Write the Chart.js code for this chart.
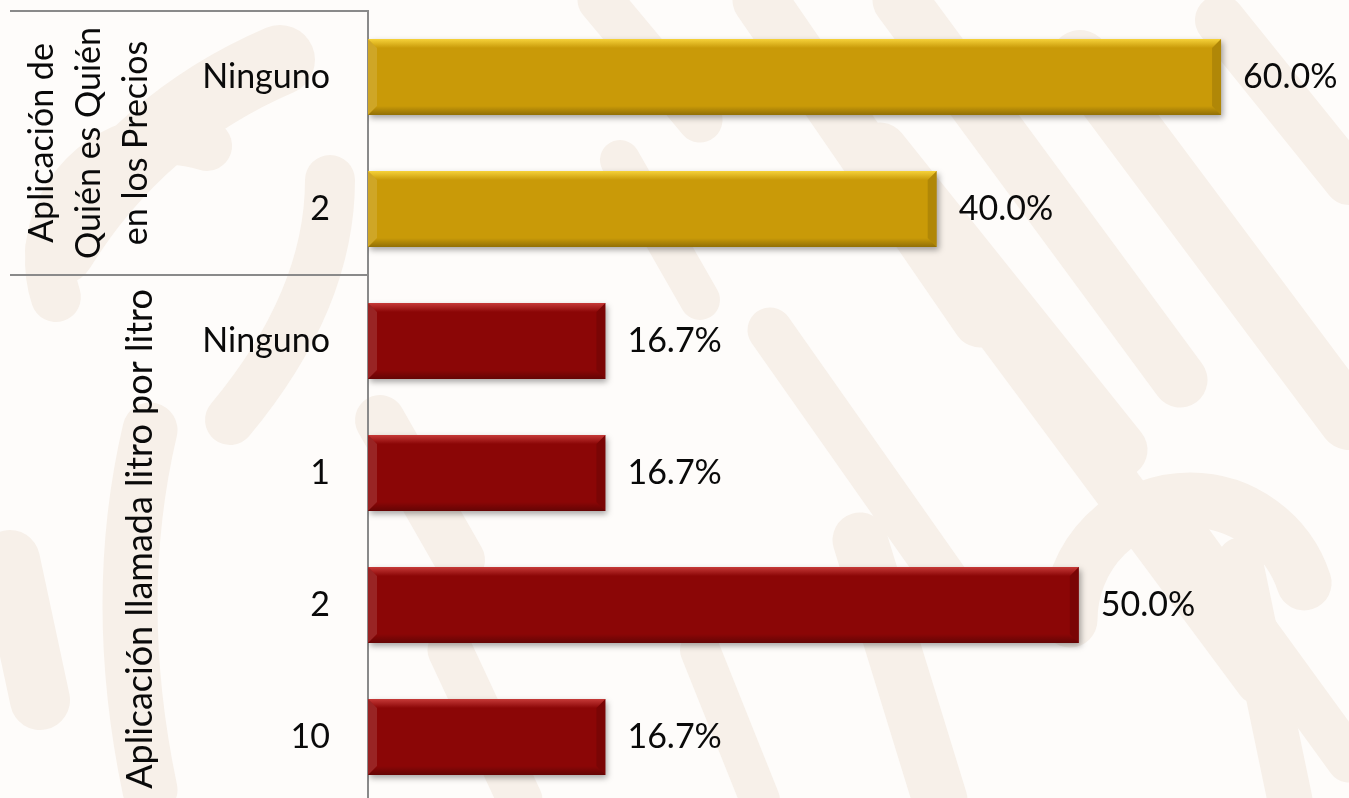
<!DOCTYPE html>
<html>
<head>
<meta charset="utf-8">
<script src="https://cdn.jsdelivr.net/npm/chart.js@4.4.1/dist/chart.umd.min.js"></script>
<style>
  html, body { margin:0; padding:0; overflow:hidden; background:#fdfaf7; }
  #wrap { position:relative; width:1349px; height:806px; }
</style>
</head>
<body>
<div id="wrap"><canvas id="c"></canvas></div>
<script>
// ---- data ----
const categories = ['Ninguno', '2', 'Ninguno', '1', '2', '10'];
const values = [60.0, 40.0, 16.7, 16.7, 50.0, 16.7];
const groupLabels = [['Aplicación de', 'Quién es Quién', 'en los Precios'], ['Aplicación llamada litro por litro']];
const groupSizes = [2, 4];
const groupColors = ['#c99a08', '#8b0606'];
const groupHighlights = ['#f6d23a', '#c63a38'];

const barColors = [];
groupSizes.forEach((n, g) => { for (let i = 0; i < n; i++) barColors.push(g); });

const FONT = 'Lato, "Open Sans", sans-serif';

// decorative watermark background
const bgPlugin = {
  id: 'bg',
  beforeDraw(chart) {
    const ctx = chart.ctx;
    ctx.save();
    ctx.fillStyle = '#fefcfa';
    ctx.fillRect(0, 0, chart.width, chart.height);
    ctx.strokeStyle = '#f7f0e9';
    ctx.lineCap = 'round';
    const strokes = [
      [60, [[40,700],[10,560]]],
      [55, [[150,790],[110,600],[150,430]]],
      [50, [[230,420],[330,300],[330,180]]],
      [70, [[60,250],[140,120],[280,60]]],
      [45, [[600,0],[700,120]]],
      [55, [[760,0],[980,320]]],
      [55, [[900,0],[1180,380]]],
      [60, [[1080,60],[1349,420]]],
      [50, [[1220,20],[1349,180]]],
      [55, [[880,150],[1120,450]]],
      [45, [[770,330],[960,600]]],
      [50, [[1000,330],[1260,680]]],
      [45, [[1160,500],[1349,760]]],
      [55, [[860,540],[940,800]]],
      [45, [[1240,560],[1290,800]]],
      [40, [[700,650],[760,800]]],
      [45, [[450,650],[520,800]]],
      [40, [[620,160],[700,300]]],
      [50, [[380,420],[460,560]]]
    ];
    strokes.forEach(([w, pts]) => {
      ctx.lineWidth = w;
      ctx.beginPath();
      ctx.moveTo(pts[0][0], pts[0][1]);
      if (pts.length === 3) ctx.quadraticCurveTo(pts[1][0], pts[1][1], pts[2][0], pts[2][1]);
      else ctx.lineTo(pts[1][0], pts[1][1]);
      ctx.stroke();
    });
    ctx.beginPath();
    ctx.lineWidth = 55;
    ctx.arc(1190, 620, 120, Math.PI * 1.0, Math.PI * 1.9);
    ctx.stroke();
    ctx.beginPath();
    ctx.lineWidth = 50;
    ctx.arc(170, 260, 120, Math.PI * 0.9, Math.PI * 1.6);
    ctx.stroke();
    ctx.restore();
  }
};

// shadow + bevel + labels + group labels
const decoPlugin = {
  id: 'deco',
  beforeDatasetsDraw(chart) {
    const ctx = chart.ctx;
    ctx.save();
    ctx.shadowColor = 'rgba(0,0,0,0.35)';
    ctx.shadowBlur = 6;
    ctx.shadowOffsetX = 2;
    ctx.shadowOffsetY = 3;
  },
  afterDatasetsDraw(chart) {
    const ctx = chart.ctx;
    ctx.restore();
    const meta = chart.getDatasetMeta(0);
    meta.data.forEach((bar, i) => {
      const g = barColors[i];
      const left = Math.min(bar.base, bar.x), right = Math.max(bar.base, bar.x);
      const top = bar.y - bar.height / 2, bottom = bar.y + bar.height / 2;
      const b = 9;
      ctx.save();
      let grad = ctx.createLinearGradient(0, top, 0, top + b);
      grad.addColorStop(0, groupHighlights[g]);
      grad.addColorStop(1, groupColors[g]);
      ctx.fillStyle = grad;
      ctx.beginPath();
      ctx.moveTo(left, top); ctx.lineTo(right, top); ctx.lineTo(right - b, top + b); ctx.lineTo(left + b, top + b); ctx.closePath();
      ctx.fill();
      ctx.fillStyle = 'rgba(255,255,255,0.12)';
      ctx.beginPath();
      ctx.moveTo(left, top); ctx.lineTo(left + b, top + b); ctx.lineTo(left + b, bottom - b); ctx.lineTo(left, bottom); ctx.closePath();
      ctx.fill();
      ctx.fillStyle = 'rgba(0,0,0,0.12)';
      ctx.beginPath();
      ctx.moveTo(right, top); ctx.lineTo(right, bottom); ctx.lineTo(right - b, bottom - b); ctx.lineTo(right - b, top + b); ctx.closePath();
      ctx.fill();
      grad = ctx.createLinearGradient(0, bottom - b, 0, bottom);
      grad.addColorStop(0, 'rgba(0,0,0,0)');
      grad.addColorStop(1, 'rgba(0,0,0,0.28)');
      ctx.fillStyle = grad;
      ctx.beginPath();
      ctx.moveTo(left, bottom); ctx.lineTo(right, bottom); ctx.lineTo(right - b, bottom - b); ctx.lineTo(left + b, bottom - b); ctx.closePath();
      ctx.fill();
      ctx.restore();
      ctx.save();
      ctx.font = '34px ' + FONT;
      ctx.fillStyle = '#0a0a0a';
      ctx.textAlign = 'left';
      ctx.textBaseline = 'middle';
      ctx.fillText(values[i].toFixed(1) + '%', right + 22, bar.y);
      ctx.restore();
    });
    const ys = chart.scales.y;
    const pitch = ys.getPixelForValue(1) - ys.getPixelForValue(0);
    const axisX = chart.chartArea.left - 1;
    ctx.save();
    ctx.strokeStyle = '#8a8a8a';
    ctx.lineWidth = 2;
    let start = 0;
    groupSizes.forEach((n, g) => {
      const yTop = ys.getPixelForValue(start) - pitch / 2;
      const yBot = ys.getPixelForValue(start + n - 1) + pitch / 2;
      ctx.beginPath();
      ctx.moveTo(10, yTop); ctx.lineTo(axisX, yTop);
      ctx.stroke();
      const lines = groupLabels[g];
      const cy = (yTop + yBot) / 2;
      const lh = 47;
      const cx0 = lines.length > 1 ? 42 : 140;
      ctx.save();
      ctx.font = (lines.length > 1 ? '34px ' : '36px ') + FONT;
      ctx.fillStyle = '#0a0a0a';
      ctx.textAlign = 'center';
      ctx.textBaseline = 'middle';
      lines.forEach((t, k) => {
        ctx.save();
        ctx.translate(cx0 + k * lh, cy);
        ctx.rotate(-Math.PI / 2);
        ctx.fillText(t, 0, 0);
        ctx.restore();
      });
      ctx.restore();
      start += n;
    });
    ctx.restore();
  }
};

new Chart(document.getElementById('c'), {
  type: 'bar',
  data: {
    labels: categories,
    datasets: [{
      data: values,
      backgroundColor: barColors.map(g => groupColors[g]),
      borderWidth: 0,
      categoryPercentage: 1,
      barPercentage: 0.576
    }]
  },
  options: {
    indexAxis: 'y',
    responsive: true,
    maintainAspectRatio: false,
    animation: false,
    layout: { padding: { top: 11, bottom: 3, left: 0, right: 0 } },
    plugins: { legend: { display: false }, tooltip: { enabled: false } },
    scales: {
      x: { display: false, min: 0, max: 69 },
      y: {
        grid: { display: false, drawTicks: false },
        border: { display: true, color: '#8a8a8a', width: 2 },
        ticks: { color: '#0a0a0a', font: { family: FONT, size: 34 }, padding: 38 },
        afterFit(s) { s.width = 368; s.paddingTop = 0; s.paddingBottom = 0; }
      }
    }
  },
  plugins: [bgPlugin, decoPlugin]
});
</script>
</body>
</html>
